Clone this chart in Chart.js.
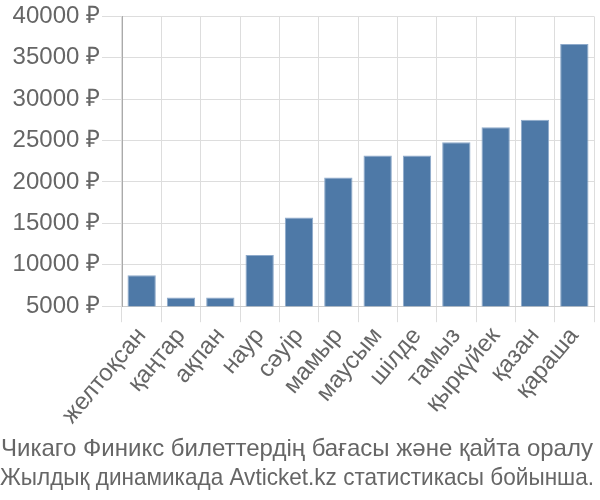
<!DOCTYPE html>
<html><head><meta charset="utf-8">
<script src="https://cdn.jsdelivr.net/npm/chart.js@4"></script>
<style>html,body{margin:0;padding:0;background:#fff}#w{width:600px;height:500px}</style>
</head><body><div id="w"><canvas id="c"></canvas></div>
<script>
const categories = ["желтоқсан","қаңтар","ақпан","наур","сәуір","мамыр","маусым","шілде","тамыз","қыркүйек","қазан","қараша"];
const prices = [8750, 6050, 6050, 11190, 15700, 20530, 23190, 23190, 24790, 26600, 27530, 36660];
const titleLines = ["Чикаго Финикс билеттердің бағасы және қайта оралу", "Жылдық динамикада Avticket.kz статистикасы бойынша."];
const currency = " ₽";

Chart.defaults.font.family = "'Liberation Sans', Arial, sans-serif";
Chart.defaults.color = "#666";
new Chart(document.getElementById('c'), {
  type: 'bar',
  data: { labels: categories, datasets: [{ data: prices, backgroundColor: '#4e79a7', borderColor: '#8eaacb', borderWidth: 1 }] },
  options: {
    responsive: true, maintainAspectRatio: false, animation: false,
    layout: { padding: { left: 0, right: 6, top: 4, bottom: 7 } },
    plugins: {
      legend: { display: false }, tooltip: { enabled: false },
      title: { display: true, position: 'bottom', text: titleLines, font: { size: 24, weight: 'normal' }, color: '#666', padding: { top: 6, bottom: 0 }, lineHeight: 1.3 }
    },
    scales: {
      x: {
        grid: { color: '#ddd', tickLength: 16, offset: true },
        border: { color: '#ccc' },
        ticks: { font: { size: 24 }, minRotation: 50, maxRotation: 50, padding: 0, autoSkip: false }
      },
      y: {
        min: 5000, max: 40000,
        grid: { color: '#ddd', tickLength: 20 },
        border: { color: '#aaa' },
        ticks: { stepSize: 5000, font: { size: 24 }, padding: 2, callback: v => v + currency },
        afterFit: s => { s.width = 122; }
      }
    }
  }
});
</script></body></html>
